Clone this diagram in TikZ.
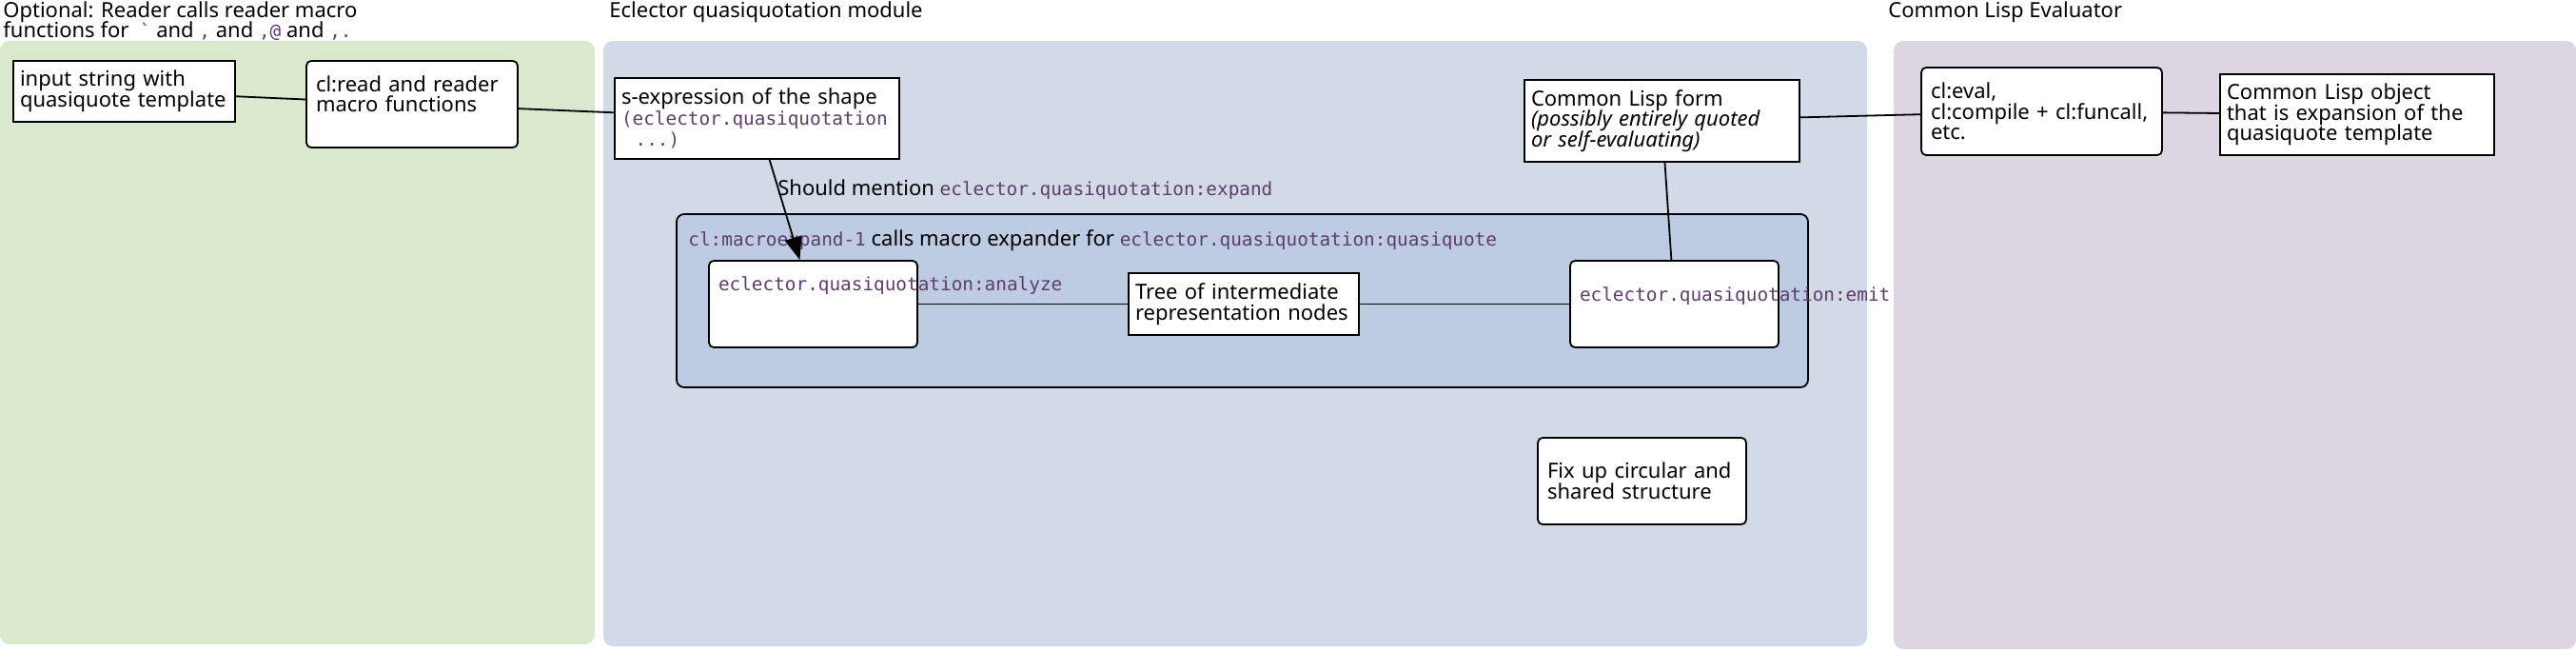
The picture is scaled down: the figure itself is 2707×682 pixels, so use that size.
\documentclass[tikz,border=0pt]{standalone}
\usepackage{fontspec}
\setmainfont{Noto Sans}
\setmonofont[Scale=0.88]{DejaVu Sans Mono}
\usetikzlibrary{arrows.meta}
\definecolor{readerbg}{HTML}{DAE8CD}
\definecolor{eclectorbg}{HTML}{D2DAE7}
\definecolor{macrobg}{HTML}{BDCCE2}
\definecolor{evalbg}{HTML}{DDD5E2}
\definecolor{lispcode}{HTML}{5F3D6B}
\newcommand{\lisp}[1]{{\ttfamily\color{lispcode}#1}}
\newcommand{\gvfont}{\fontsize{11pt}{10.85pt}\selectfont\lineskiplimit=-100pt\relax}
\tikzset{
  txt/.style={font=\gvfont},
  sqbox/.style={txt, draw, line width=0.9pt, fill=white, align=left,
    inner xsep=3.5pt, inner ysep=0pt},
  rbox/.style={sqbox, rounded corners=2.5pt, inner xsep=5pt},
  panel/.style={rounded corners=5pt},
  title/.style={txt, anchor=north west, inner sep=0pt, align=left},
  note/.style={txt, anchor=base west, inner sep=0pt},
  link/.style={line width=0.9pt},
  arr/.style={link, -{Triangle[length=12pt, width=9pt]}}
}

\begin{document}
\begin{tikzpicture}[x=0.5pt, y=-0.5pt]
  \useasboundingbox (0,0) rectangle (2707,682);
  % clusters
  \fill[readerbg, panel] (0,43) rectangle (625,677);
  \fill[eclectorbg, panel] (634,43) rectangle (1962,679);
  \fill[evalbg, panel] (1990,43) rectangle (2707,682);
  \draw[line width=0.9pt, fill=macrobg, rounded corners=4pt] (711,225) rectangle (1900,407);
  \node[title] (readertitle) at (3,1) {Optional: Reader calls reader macro\\functions for \ \lisp{`} and \lisp{,} and \lisp{,@} and \lisp{,.}};
  \node[title] (eclectortitle) at (640,1) {Eclector quasiquotation module};
  \node[title] (evaltitle) at (1984,1) {Common Lisp Evaluator};
  \node[note] (macrotitle) at (723,258) {\lisp{cl:macroexpand-1} calls macro expander for \lisp{eclector.quasiquotation:quasiquote}};

  % reader
  \node[sqbox, minimum width=116.5pt, minimum height=32pt, text width=109.5pt] (input) at (130.5,96)
    {input string with\\quasiquote template};
  \node[rbox, minimum width=111pt, minimum height=45.5pt, text width=101pt] (reader) at (433,109.5)
    {cl:read and reader\\macro functions\\\mbox{}};

  % eclector
  \node[sqbox, minimum width=149.5pt, minimum height=42.5pt, text width=142.5pt] (sexpr) at (795.5,124.5)
    {s-expression of the shape\\\lisp{(eclector.quasiquotation}\\\lisp{\ \ ...)}};
  \node[rbox, minimum width=109.5pt, minimum height=45.5pt, text width=99.5pt] (analyze) at (854.5,319.5)
    {\rlap{\lisp{eclector.quasiquotation:analyze}}\\\mbox{}\\\mbox{}};
  \node[sqbox, minimum width=121pt, minimum height=32.5pt, text width=114pt] (tree) at (1307,319.5)
    {Tree of intermediate\\representation nodes};
  \node[rbox, minimum width=109.5pt, minimum height=45.5pt, text width=99.5pt] (emit) at (1759.5,319.5)
    {\rlap{\lisp{eclector.quasiquotation:emit}}\\\mbox{}};
  \node[sqbox, minimum width=144.5pt, minimum height=43pt, text width=137.5pt] (clform) at (1746.5,127)
    {Common Lisp form\\\textit{(possibly entirely quoted}\\\textit{or self-evaluating)}};
  \node[rbox, minimum width=109.5pt, minimum height=45.5pt, text width=99.5pt] (fixup) at (1725.5,505.5)
    {Fix up circular and\\shared structure};

  % evaluator
  \node[rbox, minimum width=126.5pt, minimum height=46pt, text width=116.5pt] (evaluator) at (2145.5,117)
    {cl:eval,\\cl:compile + cl:funcall,\\etc.};
  \node[sqbox, minimum width=144pt, minimum height=42.5pt, text width=137pt] (lispobject) at (2477,120.5)
    {Common Lisp object\\that is expansion of the\\quasiquote template};

  \draw[link] (input) -- (reader);
  \draw[link] (reader) -- (sexpr);
  \draw[arr] (sexpr) -- (analyze);
  \node[note] (expandnote) at (817,205) {Should mention \lisp{eclector.quasiquotation:expand}};
  \draw[link] (analyze) -- (tree);
  \draw[link] (tree) -- (emit);
  \draw[link] (clform) -- (emit);
  \draw[link] (clform) -- (evaluator);
  \draw[link] (evaluator) -- (lispobject);
\end{tikzpicture}
\end{document}
